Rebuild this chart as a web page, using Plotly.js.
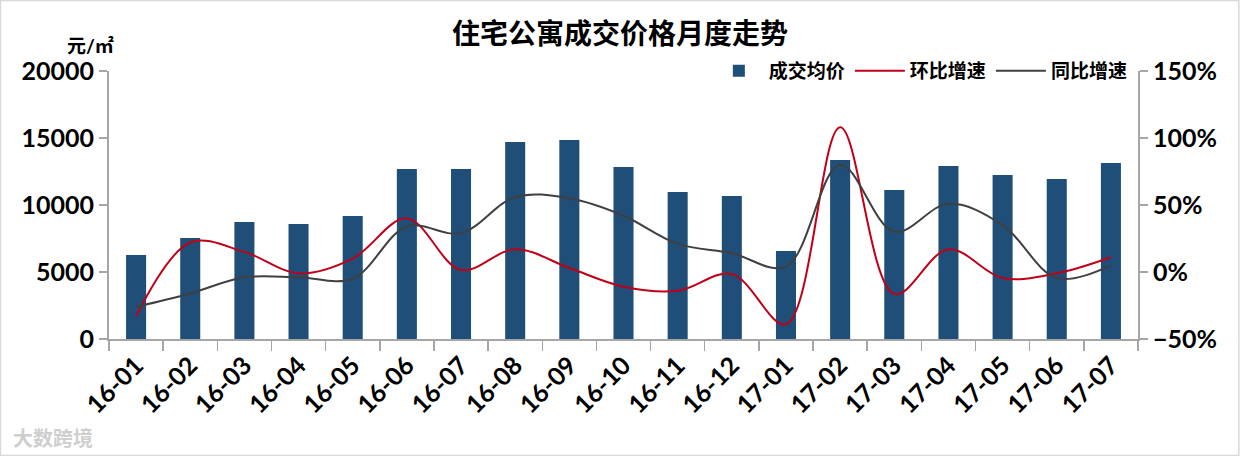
<!DOCTYPE html>
<html><head><meta charset="utf-8">
<script src="https://cdn.plot.ly/plotly-3.0.1.min.js"></script>
<style>html,body{margin:0;padding:0;background:#fff}#c{width:1240px;height:456px}</style>
</head><body><div id="c"></div>
<script>
const months = ['16-01','16-02','16-03','16-04','16-05','16-06','16-07','16-08','16-09','16-10','16-11','16-12','17-01','17-02','17-03','17-04','17-05','17-06','17-07'];
const avgPrice = [6270,7540,8730,8580,9180,12690,12690,14700,14850,12840,10970,10670,6570,13360,11120,12910,12240,11940,13130];
const momGrowth = [-33,22,15,-1,10,40,1.5,17,3,-11,-14,-1.5,-39,108,-16.5,17,-4.5,-1,11];
const yoyGrowth = [-26,-16,-4,-4,-5,34,29,56,55,42,21,14,4,80,30,51,35,-4.5,5];

const F = "Lato, 'Noto Sans CJK SC', sans-serif";
const traces = [
  {type:'bar', name:'<b>成交均价</b>', x:months, y:avgPrice, marker:{color:'#1f4e79'}, width:0.37, yaxis:'y'},
  {type:'scatter', mode:'lines', name:'<b>环比增速</b>', x:months, y:momGrowth, yaxis:'y2', line:{color:'#c00018', width:2, shape:'spline', smoothing:1}},
  {type:'scatter', mode:'lines', name:'<b>同比增速</b>', x:months, y:yoyGrowth, yaxis:'y2', line:{color:'#404040', width:2, shape:'spline', smoothing:1}}
];
const layout = {
  width:1240, height:456,
  margin:{l:109, r:102, t:71, b:117},
  paper_bgcolor:'#fff', plot_bgcolor:'#fff',
  title:{text:'<b>住宅公寓成交价格月度走势</b>', x:0.5, xanchor:'center', y:0.925, yanchor:'middle', font:{family:F, size:28, color:'#000'}},
  showlegend:true,
  legend:{orientation:'h', x:0.995, xanchor:'right', y:1.0, yanchor:'middle', font:{family:F, size:19, color:'#000'}, bgcolor:'rgba(0,0,0,0)', itemwidth:50, traceorder:'normal'},
  xaxis:{type:'category', showline:true, linecolor:'#a6a6a6', linewidth:2, ticks:'outside', tickson:'boundaries', ticklen:10, tickcolor:'#a6a6a6', tickwidth:1.5, tickangle:-45, tickfont:{family:F, size:25, color:'#000', weight:'bold'}, showgrid:false, zeroline:false},
  yaxis:{range:[0,20000], dtick:5000, tickformat:'d', showline:true, linecolor:'#a6a6a6', linewidth:2, ticks:'outside', ticklen:8, tickcolor:'#a6a6a6', tickwidth:1.5, tickfont:{family:F, size:25, color:'#000', weight:'bold'}, showgrid:false, zeroline:false},
  yaxis2:{range:[-50,150], dtick:50, ticksuffix:'%', overlaying:'y', side:'right', showline:true, linecolor:'#a6a6a6', linewidth:2, ticks:'outside', ticklen:8, tickcolor:'#a6a6a6', tickwidth:1.5, tickfont:{family:F, size:25, color:'#000', weight:'bold'}, showgrid:false, zeroline:false},
  annotations:[
    {xref:'paper', yref:'paper', x:-0.043, y:1.0, xanchor:'left', yanchor:'bottom', yshift:12, text:'<b>元/㎡</b>', showarrow:false, font:{family:F, size:19, color:'#000'}},
    {xref:'paper', yref:'paper', x:-0.095, y:-0.37, xanchor:'left', yanchor:'middle', text:'<b>大数跨境</b>', showarrow:false, font:{family:F, size:20, color:'rgba(200,200,200,0.9)'}}
  ],
  shapes:[
    {type:'rect', xref:'paper', yref:'paper', x0:-0.1055, x1:1.098, y0:-0.435, y1:1.263, line:{color:'#d9d9d9', width:1.5}}
  ]
};
Plotly.newPlot('c', traces, layout, {displayModeBar:false, staticPlot:true});
</script></body></html>
